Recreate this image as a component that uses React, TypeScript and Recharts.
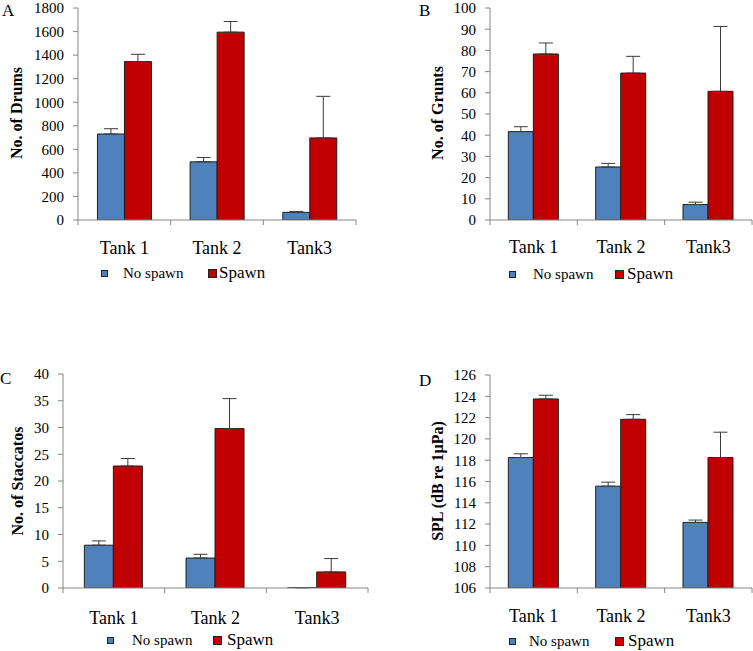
import React from 'react';
import { BarChart, Bar, XAxis, YAxis, ErrorBar, Legend } from 'recharts';

// Shared categories and legend names
const categories = ['Tank 1', 'Tank 2', 'Tank3'];
const seriesNames = ['No spawn', 'Spawn'];

// A: drums
const drumsNoSpawn = [730, 494, 65];
const drumsNoSpawnErr = [45, 37, 8];
const drumsSpawn = [1345, 1595, 697];
const drumsSpawnErr = [62, 90, 353];
const drumTicks = [0, 200, 400, 600, 800, 1000, 1200, 1400, 1600, 1800];

// B: grunts
const gruntsNoSpawn = [41.7, 25.0, 7.3];
const gruntsNoSpawnErr = [2.3, 1.7, 1.1];
const gruntsSpawn = [78.3, 69.3, 60.7];
const gruntsSpawnErr = [5.2, 7.9, 30.6];
const gruntTicks = [0, 10, 20, 30, 40, 50, 60, 70, 80, 90, 100];

// C: staccatos
const staccNoSpawn = [8.0, 5.6, 0.05];
const staccNoSpawnErr = [0.8, 0.7, 0];
const staccSpawn = [22.8, 29.8, 3.0];
const staccSpawnErr = [1.4, 5.6, 2.5];
const staccTicks = [0, 5, 10, 15, 20, 25, 30, 35, 40];

// D: sound pressure level
const splNoSpawn = [118.25, 115.56, 112.16];
const splNoSpawnErr = [0.35, 0.38, 0.22];
const splSpawn = [123.75, 121.84, 118.25];
const splSpawnErr = [0.35, 0.44, 2.38];
const splTicks = [106, 108, 110, 112, 114, 116, 118, 120, 122, 124, 126];

const BLUE = '#4F81BD';
const RED = '#C00000';
const AXIS = '#868686';
const FONT = "'Liberation Serif', 'Times New Roman', serif";

function buildRows(noSpawn: number[], noErr: number[], spawn: number[], spawnErr: number[]) {
  return categories.map((tank, i) => ({
    tank,
    noSpawn: noSpawn[i],
    noSpawnErr: [0, noErr[i]],
    spawn: spawn[i],
    spawnErr: [0, spawnErr[i]],
  }));
}

const panels = [
  {
    letter: 'A', letterX: 2, letterY: 1,
    left: 0, top: 0, width: 376, height: 290,
    margin: { top: 8, right: 20, bottom: 20, left: 18 }, yWidth: 60,
    rows: buildRows(drumsNoSpawn, drumsNoSpawnErr, drumsSpawn, drumsSpawnErr),
    domain: [0, 1800], ticks: drumTicks,
    yLabel: 'No. of Drums', yLabelX: 17, yLabelY: 113,
    tickDy: 34, legendTop: 263, legendX: [101, 123, 208, 219],
  },
  {
    letter: 'B', letterX: 43, letterY: 1,
    left: 376, top: 0, width: 377, height: 290,
    margin: { top: 8, right: 1, bottom: 20, left: 54 }, yWidth: 60,
    rows: buildRows(gruntsNoSpawn, gruntsNoSpawnErr, gruntsSpawn, gruntsSpawnErr),
    domain: [0, 100], ticks: gruntTicks,
    yLabel: 'No. of Grunts', yLabelX: 62, yLabelY: 113,
    tickDy: 33, legendTop: 264, legendX: [133, 157, 239, 251],
  },
  {
    letter: 'C', letterX: 0, letterY: 79,
    left: 0, top: 290, width: 376, height: 361,
    margin: { top: 84, right: 8, bottom: 13, left: 13 }, yWidth: 50,
    rows: buildRows(staccNoSpawn, staccNoSpawnErr, staccSpawn, staccSpawnErr),
    domain: [0, 40], ticks: staccTicks,
    yLabel: 'No. of Staccatos', yLabelX: 18, yLabelY: 191,
    tickDy: 36, legendTop: 340, legendX: [107, 132, 213, 227],
  },
  {
    letter: 'D', letterX: 43, letterY: 81,
    left: 376, top: 290, width: 377, height: 361,
    margin: { top: 85, right: 1, bottom: 13, left: 54 }, yWidth: 60,
    rows: buildRows(splNoSpawn, splNoSpawnErr, splSpawn, splSpawnErr),
    domain: [106, 126], ticks: splTicks,
    yLabel: 'SPL (dB re 1µPa)', yLabelX: 62, yLabelY: 191,
    tickDy: 34, legendTop: 341, legendX: [133, 153, 239, 252],
  },
];

function TankTick(props: any) {
  const { x, y, payload, band, dy } = props;
  const last = payload.value === categories[categories.length - 1];
  return (
    <g>
      <line x1={x - band / 2} x2={x - band / 2} y1={y} y2={y + 5} stroke={AXIS} />
      {last ? <line x1={x + band / 2} x2={x + band / 2} y1={y} y2={y + 5} stroke={AXIS} /> : null}
      <text x={x} y={y + dy} textAnchor="middle" fontSize={18} fill="#000" fontFamily={FONT}>
        {payload.value}
      </text>
    </g>
  );
}

function PanelLegend({ payload, xs }: { payload?: any[]; xs: number[] }) {
  const items = payload || [];
  const boxes = [7, 9];
  const sizes = [15, 17];
  return (
    <div style={{ position: 'relative', height: 20, fontFamily: FONT }}>
      {items.map((item, i) => (
        <React.Fragment key={item.value}>
          <span
            style={{
              position: 'absolute',
              left: xs[i * 2],
              top: 10 - boxes[i] / 2,
              width: boxes[i],
              height: boxes[i],
              background: item.color,
              border: '1px solid #222',
              boxSizing: 'border-box',
            }}
          />
          <span
            style={{
              position: 'absolute',
              left: xs[i * 2 + 1],
              top: 0,
              lineHeight: '20px',
              fontSize: sizes[i],
              color: '#000',
              whiteSpace: 'nowrap',
            }}
          >
            {item.value}
          </span>
        </React.Fragment>
      ))}
    </div>
  );
}

function Panel({ cfg }: { cfg: (typeof panels)[number] }) {
  const plotW = cfg.width - cfg.margin.left - cfg.margin.right - cfg.yWidth;
  const band = plotW / categories.length;
  return (
    <div style={{ position: 'absolute', left: cfg.left, top: cfg.top, width: cfg.width, height: cfg.height }}>
      <BarChart
        width={cfg.width}
        height={cfg.height}
        data={cfg.rows}
        margin={cfg.margin}
        barCategoryGap="21%"
        barGap={0}
        style={{ fontFamily: FONT }}
      >
        <XAxis
          dataKey="tank"
          height={30}
          stroke={AXIS}
          tickLine={false}
          tickSize={0}
          tickMargin={0}
          interval={0}
          tick={(p: any) => <TankTick {...p} band={band} dy={cfg.tickDy} />}
        />
        <YAxis
          width={cfg.yWidth}
          domain={cfg.domain}
          ticks={cfg.ticks}
          interval={0}
          allowDataOverflow
          stroke={AXIS}
          tickSize={5}
          tickMargin={9}
          tick={{ fontSize: 15, fill: '#000', fontFamily: FONT }}
        />
        <Legend
          verticalAlign="bottom"
          height={20}
          wrapperStyle={{ left: 0, top: cfg.legendTop, bottom: 'auto', width: cfg.width, height: 20 }}
          content={(p: any) => <PanelLegend payload={p.payload} xs={cfg.legendX} />}
        />
        <Bar dataKey="noSpawn" name={seriesNames[0]} fill={BLUE} stroke="#1f1f1f" strokeWidth={1} isAnimationActive={false}>
          <ErrorBar dataKey="noSpawnErr" direction="y" width={7} stroke="#3a3a3a" strokeWidth={1} />
        </Bar>
        <Bar dataKey="spawn" name={seriesNames[1]} fill={RED} stroke="#1f1f1f" strokeWidth={1} isAnimationActive={false}>
          <ErrorBar dataKey="spawnErr" direction="y" width={7} stroke="#3a3a3a" strokeWidth={1} />
        </Bar>
      </BarChart>
      <div style={{ position: 'absolute', left: cfg.letterX, top: cfg.letterY, fontSize: 17, fontFamily: FONT }}>
        {cfg.letter}
      </div>
      <div
        style={{
          position: 'absolute',
          left: cfg.yLabelX,
          top: cfg.yLabelY,
          transform: 'translate(-50%, -50%) rotate(-90deg)',
          fontSize: 16,
          fontWeight: 'bold',
          fontFamily: FONT,
          whiteSpace: 'nowrap',
        }}
      >
        {cfg.yLabel}
      </div>
    </div>
  );
}

export default function App() {
  return (
    <div style={{ position: 'absolute', left: 0, top: 0, width: 753, height: 651, background: '#fff' }}>
      {panels.map((cfg) => (
        <Panel key={cfg.letter} cfg={cfg} />
      ))}
    </div>
  );
}
